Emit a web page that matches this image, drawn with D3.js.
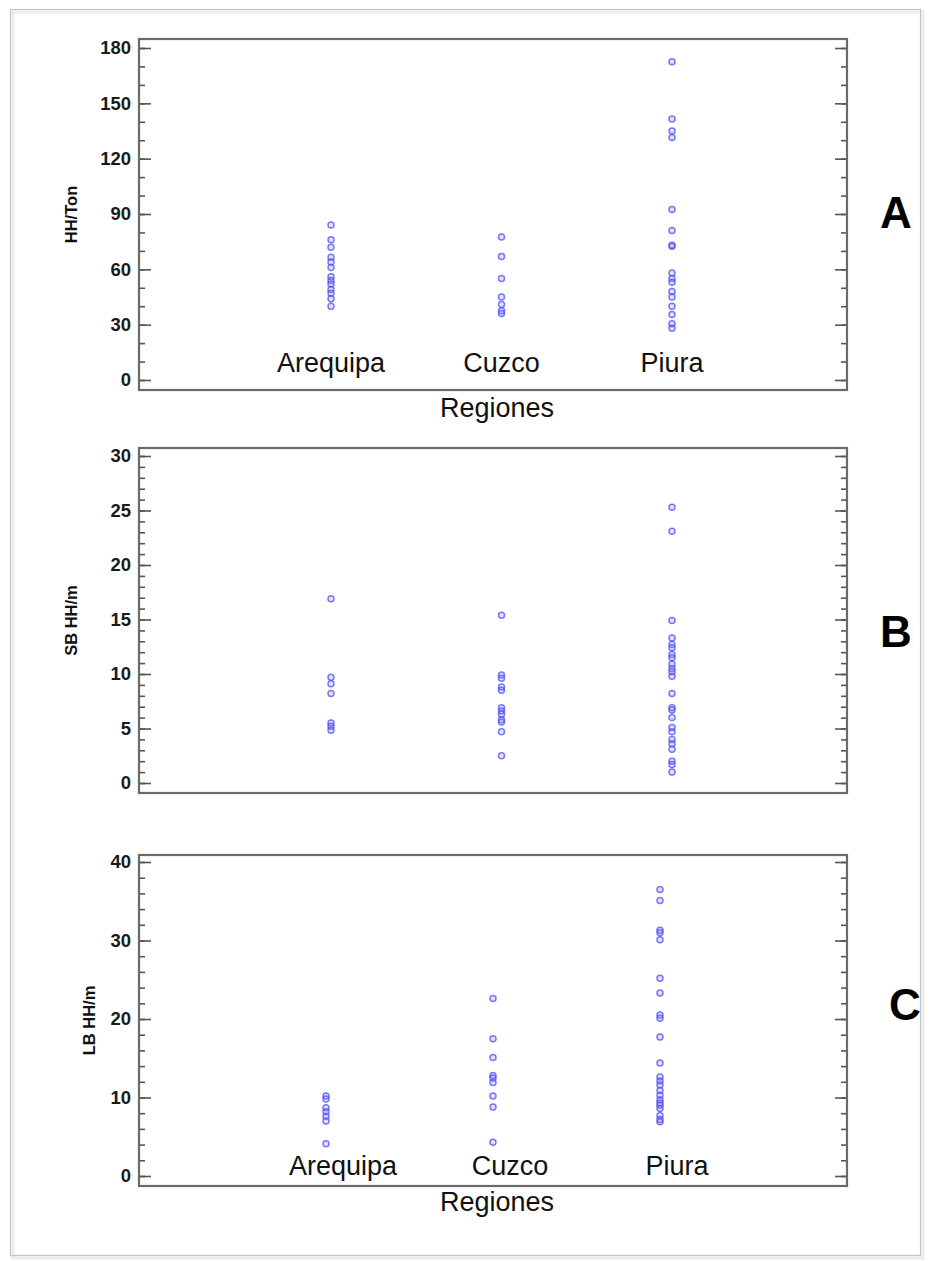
<!DOCTYPE html>
<html>
<head>
<meta charset="utf-8">
<script src="https://cdn.jsdelivr.net/npm/d3@7"></script>
<style>
  body { margin: 0; background: #fff; }
  svg { display: block; }
  text { font-family: Arial, "Liberation Sans", sans-serif; }
</style>
</head>
<body>
<svg id="chart" width="932" height="1261"></svg>
<script>
// Regions on the horizontal axis
const regiones = ["Arequipa", "Cuzco", "Piura"];

// A: man-hours per ton
const hhTonArequipa = [84, 76, 72, 66.5, 64, 61, 56, 54, 52, 49, 47, 44, 40];
const hhTonCuzco = [77.5, 67, 55, 45, 41, 37.5, 36];
const hhTonPiura = [172.5, 141.5, 135, 131.5, 92.5, 81, 73, 72.5, 58, 55, 53, 48, 45, 40, 35.5, 30.5, 28];

// B: SB man-hours per metre
const sbArequipa = [16.9, 9.7, 9.1, 8.2, 5.5, 5.2, 4.85];
const sbCuzco = [15.4, 9.9, 9.6, 8.8, 8.5, 6.9, 6.6, 6.3, 5.8, 5.6, 4.7, 2.5];
const sbPiura = [25.3, 23.1, 14.9, 13.3, 12.7, 12.4, 11.8, 11.5, 10.9, 10.5, 10.2, 9.8, 8.2, 6.9, 6.7, 6.0, 5.1, 4.7, 4.0, 3.6, 3.1, 2.0, 1.7, 1.0];

// C: LB man-hours per metre
const lbArequipa = [10.2, 9.8, 8.7, 8.2, 7.6, 7.0, 4.1];
const lbCuzco = [22.6, 17.5, 15.1, 12.8, 12.5, 11.9, 10.2, 8.8, 4.3];
const lbPiura = [36.5, 35.1, 31.3, 31.0, 30.1, 25.2, 23.3, 20.5, 20.1, 17.7, 14.4, 12.6, 12.1, 11.6, 10.9, 10.3, 9.7, 9.3, 9.0, 8.6, 7.7, 7.2, 6.9];

// Tick values
const ticksA = [0, 30, 60, 90, 120, 150, 180];
const minorA = d3.range(0, 181, 10);
const ticksB = [0, 5, 10, 15, 20, 25, 30];
const minorB = d3.range(0, 31, 1);
const ticksC = [0, 10, 20, 30, 40];
const minorC = d3.range(0, 41, 2);

const svg = d3.select("#chart");

// Outer figure border with a soft shadow
svg.append("rect").attr("x", 13).attr("y", 12).attr("width", 910).attr("height", 1246)
  .attr("fill", "none").attr("stroke", "#ececec").attr("stroke-width", 3);
svg.append("rect").attr("x", 10.5).attr("y", 9.5).attr("width", 910).attr("height", 1246)
  .attr("fill", "none").attr("stroke", "#c4c4c4").attr("stroke-width", 1.2);

const L = 139, R = 847;

const panels = [
  { letter: "A", title: "HH/Ton", top: 39, bottom: 390, domain: [0, 180], yr: [380, 48],
    ticks: ticksA, minor: minorA, series: [hhTonArequipa, hhTonCuzco, hhTonPiura],
    xr: [331, 672], catLabels: true, catY: 372, catShift: 0, regY: 417,
    titleX: 77, letterX: 896, letterY: 228 },
  { letter: "B", title: "SB HH/m", top: 448, bottom: 793, domain: [0, 30], yr: [783, 456],
    ticks: ticksB, minor: minorB, series: [sbArequipa, sbCuzco, sbPiura],
    xr: [331, 672], catLabels: false,
    titleX: 77, letterX: 896, letterY: 647 },
  { letter: "C", title: "LB HH/m", top: 855, bottom: 1186, domain: [0, 40], yr: [1176, 862],
    ticks: ticksC, minor: minorC, series: [lbArequipa, lbCuzco, lbPiura],
    xr: [326, 660], catLabels: true, catY: 1175, catShift: 17, regY: 1211,
    titleX: 95, letterX: 905, letterY: 1020 }
];

panels.forEach(p => {
  const g = svg.append("g");
  const y = d3.scaleLinear().domain(p.domain).range(p.yr);
  const x = d3.scalePoint().domain(regiones).range(p.xr);

  // Minor ticks, both sides, pointing inward
  g.append("g").attr("transform", `translate(${L},0)`)
    .call(d3.axisRight(y).tickValues(p.minor).tickSize(6).tickFormat(""))
    .call(a => a.select(".domain").remove());
  g.append("g").attr("transform", `translate(${R},0)`)
    .call(d3.axisLeft(y).tickValues(p.minor).tickSize(6).tickFormat(""))
    .call(a => a.select(".domain").remove());

  // Major ticks with labels on the left
  g.append("g").attr("transform", `translate(${L},0)`)
    .call(d3.axisLeft(y).tickValues(p.ticks).tickSize(-12).tickPadding(8))
    .call(a => a.select(".domain").remove())
    .call(a => a.selectAll("text").attr("font-size", 18.5).attr("font-weight", "bold")
      .attr("fill", "#1a1a1a").attr("font-family", "Arial, 'Liberation Sans', sans-serif"));
  g.append("g").attr("transform", `translate(${R},0)`)
    .call(d3.axisRight(y).tickValues(p.ticks).tickSize(-12).tickFormat(""))
    .call(a => a.select(".domain").remove());

  g.selectAll(".tick line").attr("stroke", "#555").attr("stroke-width", 1.6);

  // Plot frame
  g.append("rect").attr("x", L).attr("y", p.top).attr("width", R - L).attr("height", p.bottom - p.top)
    .attr("fill", "none").attr("stroke", "#6a6a6a").attr("stroke-width", 2.2);

  // Points
  regiones.forEach((r, i) => {
    g.append("g").selectAll("circle").data(p.series[i]).join("circle")
      .attr("cx", x(r)).attr("cy", d => y(d)).attr("r", 3)
      .attr("fill", "rgba(130,130,255,0.25)")
      .attr("stroke", "rgba(80,80,240,0.75)").attr("stroke-width", 1.5);
  });

  // Category labels inside the plot and axis title below
  if (p.catLabels) {
    g.append("g").selectAll("text").data(regiones).join("text")
      .attr("x", d => x(d) + p.catShift).attr("y", p.catY)
      .attr("text-anchor", "middle").attr("font-size", 27).attr("fill", "#111")
      .text(d => d);
    g.append("text").attr("x", 497).attr("y", p.regY).attr("text-anchor", "middle")
      .attr("font-size", 27).attr("fill", "#111").text("Regiones");
  }

  // Y axis title
  const cy = (p.top + p.bottom) / 2;
  g.append("text").attr("transform", `translate(${p.titleX},${cy}) rotate(-90)`)
    .attr("text-anchor", "middle").attr("font-size", 16.5).attr("font-weight", "bold")
    .attr("fill", "#111").text(p.title);

  // Panel letter
  g.append("text").attr("x", p.letterX).attr("y", p.letterY).attr("text-anchor", "middle")
    .attr("font-size", 44).attr("font-weight", "bold").attr("fill", "#000").text(p.letter);
});
</script>
</body>
</html>
